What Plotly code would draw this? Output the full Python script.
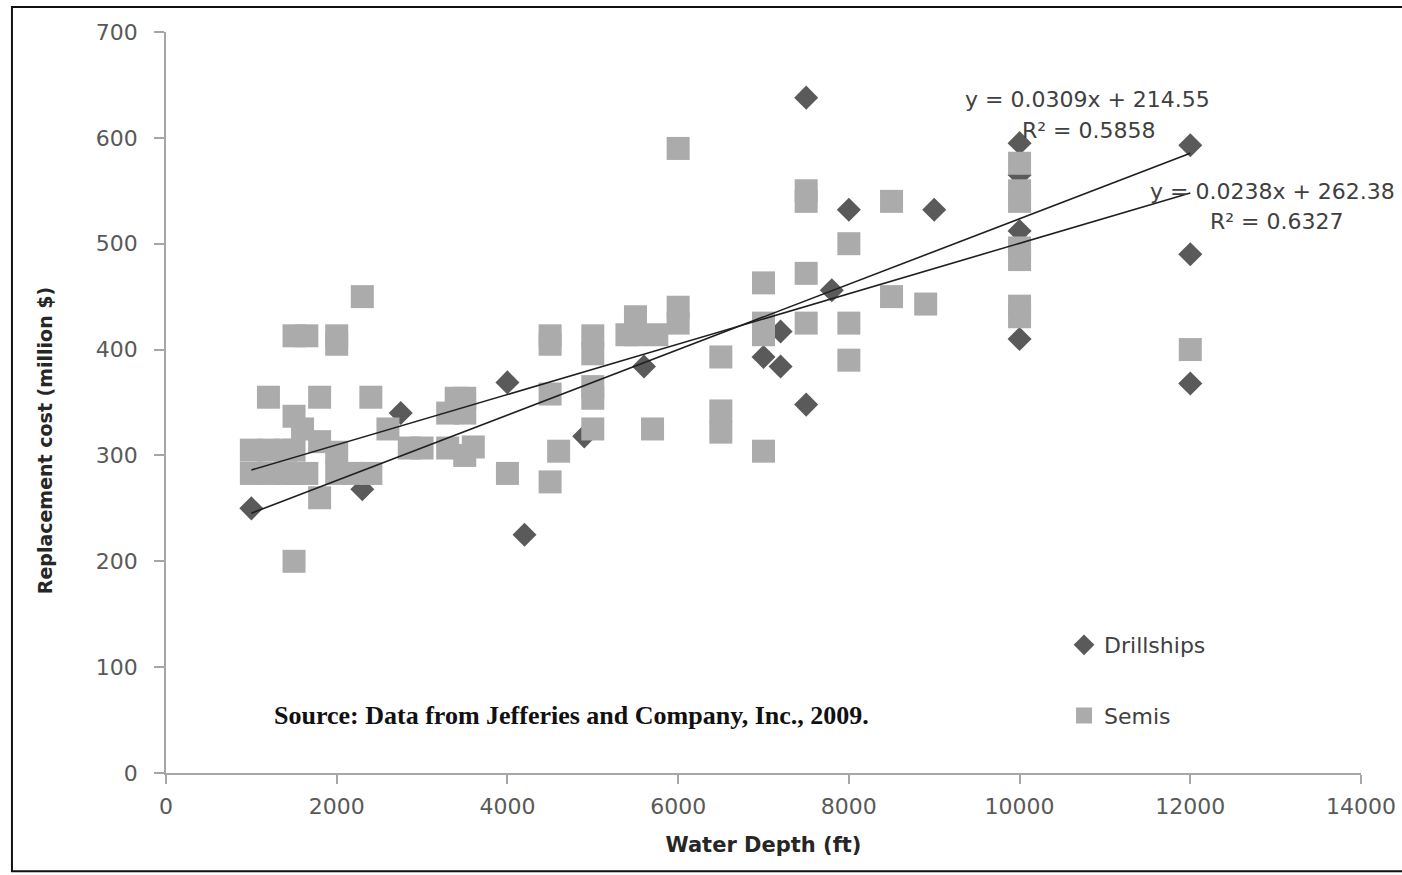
import plotly.graph_objects as go

# Water depth (ft) and replacement cost (million $) per rig type
drill_depth = [1000, 2300, 2750, 4000, 4200, 4900, 5600, 7000, 7200, 7200, 7500,
               7500, 7800, 8000, 9000, 10000, 10000, 10000, 10000, 12000, 12000, 12000]
drill_cost = [250, 268, 340, 369, 225, 318, 384, 393, 417, 384, 638,
              348, 456, 532, 532, 595, 565, 512, 410, 593, 490, 368]

semi_depth = [1000, 1000, 1200, 1200, 1200, 1400, 1400, 1500, 1500, 1500, 1500, 1500,
              1600, 1650, 1650, 1800, 1800, 1800, 2000, 2000, 2000, 2000, 2200, 2300,
              2400, 2400, 2600, 2850, 3000, 3300, 3300, 3400, 3500, 3500, 3500, 3600,
              4000, 4500, 4500, 4500, 4500, 4600, 5000, 5000, 5000, 5000, 5000,
              5400, 5500, 5500, 5700, 5750, 6000, 6000, 6000, 6500, 6500, 6500,
              7000, 7000, 7000, 7000, 7500, 7500, 7500, 7500, 8000, 8000, 8000,
              8500, 8500, 8900, 10000, 10000, 10000, 10000, 10000, 10000, 10000, 12000]
semi_cost = [305, 283, 355, 305, 283, 305, 283, 413, 337, 305, 283, 200,
             325, 413, 283, 355, 313, 260, 413, 405, 303, 283, 283, 450,
             355, 283, 325, 307, 307, 340, 307, 354, 354, 340, 300, 308,
             283, 413, 405, 358, 275, 304, 413, 396, 365, 354, 325,
             414, 431, 414, 325, 414, 590, 440, 425, 393, 342, 322,
             463, 425, 414, 304, 550, 540, 472, 425, 500, 425, 390,
             540, 450, 443, 576, 550, 540, 496, 485, 441, 431, 400]

# Linear trendlines (slope, intercept) and their fit statistics
drill_fit = (0.0309, 214.55, 0.5858)
semi_fit = (0.0238, 262.38, 0.6327)
fit_range = [1000, 12000]

x_ticks = [0, 2000, 4000, 6000, 8000, 10000, 12000, 14000]
y_ticks = [0, 100, 200, 300, 400, 500, 600, 700]

FONT = "DejaVu Sans"
TXT = "#404040"
AXIS = "#a6a6a6"

fig = go.Figure()

fig.add_trace(go.Scatter(
    x=drill_depth, y=drill_cost, mode="markers", name="Drillships",
    legendgroup="d",
    marker=dict(symbol="diamond", size=18.5, color="#5a5a5a", line=dict(width=0)),
))
fig.add_trace(go.Scatter(
    x=semi_depth, y=semi_cost, mode="markers", name="Semis",
    legendgroup="s",
    marker=dict(symbol="square", size=23, color="#ababab", line=dict(width=0)),
))

for slope, icpt, _ in (drill_fit, semi_fit):
    fig.add_trace(go.Scatter(
        x=fit_range, y=[slope * v + icpt for v in fit_range], mode="lines",
        line=dict(color="#1f1f1f", width=1.6), showlegend=False, hoverinfo="skip",
    ))

annots = [
    dict(x=10800, y=636, text=f"y = {drill_fit[0]}x + {drill_fit[1]}", xanchor="center"),
    dict(x=10815, y=607, text=f"R² = {drill_fit[2]}", xanchor="center"),
    dict(x=11510, y=549, text=f"y = {semi_fit[0]}x + {semi_fit[1]}", xanchor="left"),
    dict(x=13010, y=521, text=f"R² = {semi_fit[2]}", xanchor="center"),
]
for a in annots:
    fig.add_annotation(**a, xref="x", yref="y", yanchor="middle", showarrow=False,
                       font=dict(family=FONT, size=22, color=TXT))

fig.add_annotation(
    x=1242, y=54, xref="x", yref="y", xanchor="left", yanchor="middle", showarrow=False,
    text="<b>Source: Data from Jefferies and Company, Inc., 2009.</b>",
    font=dict(family="Liberation Serif", size=26, color="#111111"),
)

# y-axis title, set a little below the plot's mid-height
fig.add_annotation(
    x=-0.1013, y=0.449, xref="paper", yref="paper", xanchor="center", yanchor="middle",
    showarrow=False, textangle=-90,
    text="<b>Replacement cost (million $)</b>",
    font=dict(family=FONT, size=19, color="#262626"),
)

# outer frame around the chart
fig.add_shape(type="rect", xref="paper", yref="paper",
              x0=-0.1289, y0=-0.1325, x1=1.04, y1=1.0337,
              line=dict(color="#111111", width=2), layer="above")

fig.update_xaxes(
    range=[0, 14000], tickvals=x_ticks, ticktext=[str(v) for v in x_ticks],
    showgrid=False, zeroline=False, showline=True, linecolor=AXIS, linewidth=1.5,
    ticks="outside", ticklen=9, tickcolor=AXIS, tickwidth=1.5, ticklabelstandoff=4,
    tickfont=dict(family=FONT, size=22, color="#595959"), automargin=False,
    title=dict(text="<b>Water Depth (ft)</b>", standoff=19,
               font=dict(family=FONT, size=21, color="#262626")),
)
fig.update_yaxes(
    range=[0, 700], tickvals=y_ticks, ticktext=[str(v) for v in y_ticks],
    showgrid=False, zeroline=False, showline=True, linecolor=AXIS, linewidth=1.5,
    ticks="outside", ticklen=10, tickcolor=AXIS, tickwidth=1.5, ticklabelstandoff=12,
    tickfont=dict(family=FONT, size=22, color="#595959"), automargin=False,
)

fig.update_layout(
    width=1402, height=875,
    margin=dict(l=166, r=41, t=32, b=102),
    plot_bgcolor="white", paper_bgcolor="white",
    legend=dict(
        x=0.7515, y=0.201, xanchor="left", yanchor="top",
        traceorder="grouped", tracegroupgap=39, itemwidth=30,
        font=dict(family=FONT, size=22, color=TXT), bgcolor="rgba(0,0,0,0)",
    ),
)

fig.write_html("out.html")
